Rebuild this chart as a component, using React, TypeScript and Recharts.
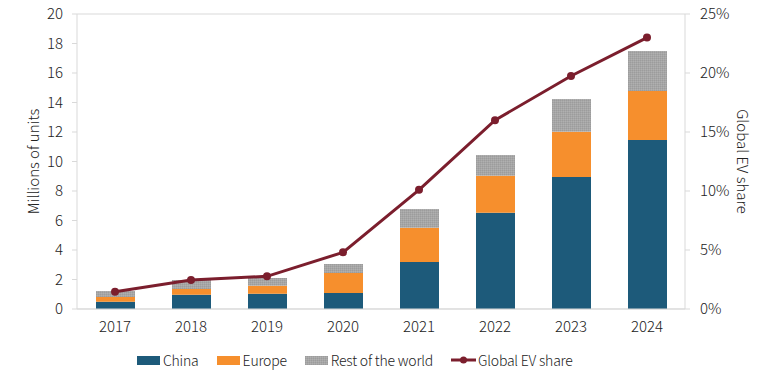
import React from 'react';
import {
    ComposedChart,
    Bar,
    Line,
    XAxis,
    YAxis,
    CartesianGrid,
    Legend
} from 'recharts';

const years = ['2017', '2018', '2019', '2020', '2021', '2022', '2023', '2024'];
const china = [0.49, 0.97, 1.04, 1.08, 3.19, 6.53, 8.95, 11.46];
const europe = [0.32, 0.39, 0.54, 1.36, 2.32, 2.51, 3.07, 3.32];
const restOfWorld = [0.41, 0.61, 0.52, 0.61, 1.27, 1.4, 2.22, 2.71];
const evShare = [1.47, 2.46, 2.77, 4.8, 10.1, 16.0, 19.75, 23.0];

const leftTicks = [0, 2, 4, 6, 8, 10, 12, 14, 16, 18, 20];
const rightTicks = [0, 5, 10, 15, 20, 25];

const COLORS = {
    china: '#1d5a7a',
    europe: '#f68f2d',
    rest: '#a6a6a6',
    share: '#7b1e2d',
    grid: '#d9d9d9',
    text: '#222222',
};

const FONT = '"Noto Sans CJK JP", "Noto Sans", sans-serif';

const data = years.map((year, i) => ({
    year,
    china: china[i],
    europe: europe[i],
    rest: restOfWorld[i],
    share: evShare[i],
}));

const legendItems = [
    { label: 'China', kind: 'box', color: COLORS.china },
    { label: 'Europe', kind: 'box', color: COLORS.europe },
    { label: 'Rest of the world', kind: 'pattern', color: COLORS.rest },
    { label: 'Global EV share', kind: 'line', color: COLORS.share },
];

const renderLegend = () => (
    <div
        style={{
            display: 'flex',
            alignItems: 'center',
            paddingLeft: 137,
            paddingTop: 16,
            height: 20,
            fontFamily: FONT,
            fontWeight: 300,
            fontSize: 14,
            letterSpacing: -0.2,
            color: COLORS.text,
        }}
    >
        {legendItems.map((item) => (
            <div key={item.label} style={{ display: 'flex', alignItems: 'center', marginRight: 18 }}>
                {item.kind === 'line' ? (
                    <svg width={25} height={10} style={{ marginRight: 2 }}>
                        <line x1={0} y1={5} x2={25} y2={5} stroke={item.color} strokeWidth={3} />
                        <circle cx={12.5} cy={5} r={3.5} fill={item.color} />
                    </svg>
                ) : (
                    <svg width={23} height={9} style={{ marginRight: 3 }}>
                        <rect
                            width={23}
                            height={9}
                            fill={item.kind === 'pattern' ? 'url(#rowPattern)' : item.color}
                        />
                    </svg>
                )}
                <span>{item.label}</span>
            </div>
        ))}
    </div>
);

const LeftTitle = (props: any) => {
    const { viewBox } = props;
    const cy = viewBox.y + viewBox.height / 2;
    return (
        <text
            x={32}
            y={cy}
            transform={`rotate(-90, 32, ${cy})`}
            textAnchor="middle"
            dominantBaseline="central"
            fill={COLORS.text}
            fontSize={15}
            fontWeight={300}
            fontFamily={FONT}
        >
            Millions of units
        </text>
    );
};

const RightTitle = (props: any) => {
    const { viewBox } = props;
    const cy = viewBox.y + viewBox.height / 2;
    const cx = viewBox.x + 58;
    return (
        <text
            x={cx}
            y={cy}
            transform={`rotate(90, ${cx}, ${cy})`}
            textAnchor="middle"
            dominantBaseline="central"
            fill={COLORS.text}
            fontSize={15}
            fontWeight={300}
            fontFamily={FONT}
        >
            Global EV share
        </text>
    );
};

export default function App() {
    const tickStyle = { fill: COLORS.text, fontSize: 15, fontFamily: FONT, fontWeight: 300 };

    return (
        <div style={{ position: 'absolute', left: 0, top: 0, width: 778, height: 370, background: '#fff' }}>
            {/* pattern for the grey "rest of world" fill, shared with the legend */}
            <svg width={0} height={0} style={{ position: 'absolute' }}>
                <defs>
                    <pattern id="rowPattern" width={2} height={2} patternUnits="userSpaceOnUse">
                        <rect width={2} height={2} fill="#a6a6a6" />
                        <rect width={1} height={1} fill="#9c9c9c" />
                        <rect x={1} y={1} width={1} height={1} fill="#b0b0b0" />
                    </pattern>
                </defs>
            </svg>
            <ComposedChart
                width={778}
                height={370}
                data={data}
                margin={{ top: 14, right: 0, left: 0, bottom: 0 }}
            >
                <CartesianGrid vertical={false} stroke={COLORS.grid} />
                <XAxis
                    dataKey="year"
                    height={25}
                    axisLine={{ stroke: COLORS.grid }}
                    tickLine={false}
                    tick={tickStyle}
                    tickMargin={6}
                />
                <YAxis
                    yAxisId="left"
                    width={77}
                    domain={[0, 20]}
                    ticks={leftTicks}
                    axisLine={{ stroke: COLORS.grid }}
                    tickLine={{ stroke: COLORS.grid }}
                    tickSize={5}
                    tickMargin={9}
                    tick={tickStyle}
                    label={<LeftTitle />}
                />
                <YAxis
                    yAxisId="right"
                    orientation="right"
                    width={93}
                    domain={[0, 25]}
                    ticks={rightTicks}
                    tickFormatter={(v: number) => `${v}%`}
                    axisLine={{ stroke: COLORS.grid }}
                    tickLine={{ stroke: COLORS.grid }}
                    tickSize={5}
                    tickMargin={10}
                    tick={tickStyle}
                    label={<RightTitle />}
                />
                <Legend verticalAlign="bottom" height={36} content={renderLegend} />
                <Bar yAxisId="left" dataKey="china" stackId="a" fill={COLORS.china} barSize={39} isAnimationActive={false} />
                <Bar yAxisId="left" dataKey="europe" stackId="a" fill={COLORS.europe} barSize={39} isAnimationActive={false} />
                <Bar yAxisId="left" dataKey="rest" stackId="a" fill="url(#rowPattern)" barSize={39} isAnimationActive={false} />
                <Line
                    yAxisId="right"
                    dataKey="share"
                    stroke={COLORS.share}
                    strokeWidth={3}
                    dot={{ r: 4, fill: COLORS.share, stroke: COLORS.share, strokeWidth: 0 }}
                    activeDot={false}
                    isAnimationActive={false}
                />
            </ComposedChart>
        </div>
    );
}
